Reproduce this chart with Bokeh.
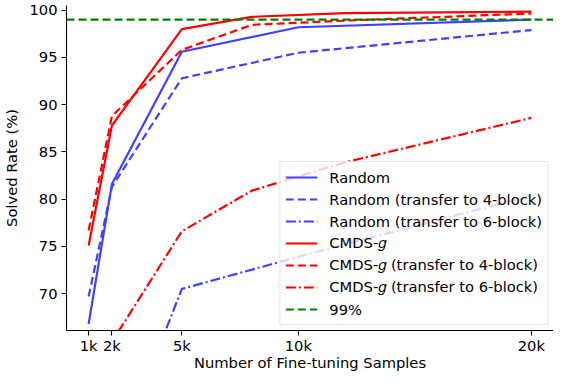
from bokeh.plotting import figure
from bokeh.models import Range1d, FixedTicker, Legend, LegendItem
from bokeh.embed import file_html
from bokeh.resources import INLINE

# ---- data ----
x_random = [1000, 2000, 5000, 10000, 20000]
x_cmds = [1000, 2000, 5000, 8000, 12000, 20000]

random_base = [66.8, 81.6, 95.6, 98.2, 99.0]
random_4 = [69.7, 81.3, 92.8, 95.5, 97.9]
random_6 = [45.0, 51.6, 70.5, 73.9, 80.4]

cmds_base = [75.1, 87.8, 98.0, 99.3, 99.7, 99.85]
cmds_4 = [76.7, 88.8, 95.8, 98.45, 98.9, 99.65]
cmds_6 = [55.0, 64.9, 76.6, 80.9, 83.9, 88.6]

threshold = 99.0
x_limits = [50, 20950]
y_limits = [66.1, 100.5]

x_ticks = [1000, 2000, 5000, 10000, 20000]
x_tick_labels = ["1k", "2k", "5k", "10k", "20k"]
y_ticks = [70, 75, 80, 85, 90, 95, 100]

FONT = "DejaVu Sans"
FS = "14.7px"
BLUE = "#4040ff"
RED = "#ff0000"
GREEN = "#008000"

p = figure(width=553, height=373, output_backend="svg", toolbar_location=None,
           x_range=Range1d(*x_limits), y_range=Range1d(*y_limits),
           min_border_left=61, min_border_right=0, min_border_top=5,
           min_border_bottom=0)
p.outline_line_color = None
p.xgrid.grid_line_color = None
p.ygrid.grid_line_color = None
p.background_fill_color = "white"

for ax in (p.xaxis[0], p.yaxis[0]):
    ax.major_label_text_font = FONT
    ax.major_label_text_font_size = FS
    ax.major_label_text_color = "black"
    ax.axis_label_text_font = FONT
    ax.axis_label_text_font_size = FS
    ax.axis_label_text_font_style = "normal"
    ax.axis_label_text_color = "black"
    ax.axis_line_color = "black"
    ax.axis_line_width = 1.1
    ax.major_tick_line_color = "black"
    ax.major_tick_line_width = 1.1
    ax.major_tick_in = 0
    ax.major_tick_out = 5
    ax.minor_tick_line_color = None

p.xaxis.ticker = FixedTicker(ticks=x_ticks)
p.xaxis.major_label_overrides = {t: l for t, l in zip(x_ticks, x_tick_labels)}
p.yaxis.ticker = FixedTicker(ticks=y_ticks)
p.xaxis.axis_label = "Number of Fine-tuning Samples"
p.yaxis.axis_label = "Solved Rate (%)"
p.xaxis.major_label_standoff = 1
p.yaxis.major_label_standoff = 4
p.xaxis.axis_label_standoff = -3
p.yaxis.axis_label_standoff = 6

LW = 2.2
SOLID = "solid"
DASH = "8 4"
DASHDOT = "10 3 2 3"

r1 = p.line(x_random, random_base, line_color=BLUE, line_width=LW, line_dash=SOLID)
r2 = p.line(x_random, random_4, line_color=BLUE, line_width=LW, line_dash=DASH)
r3 = p.line(x_random, random_6, line_color=BLUE, line_width=LW, line_dash=DASHDOT)
r4 = p.line(x_cmds, cmds_base, line_color=RED, line_width=LW, line_dash=SOLID)
r5 = p.line(x_cmds, cmds_4, line_color=RED, line_width=LW, line_dash=DASH)
r6 = p.line(x_cmds, cmds_6, line_color=RED, line_width=LW, line_dash=DASHDOT)
r7 = p.line(x_limits, [threshold, threshold], line_color=GREEN, line_width=LW, line_dash=DASH)

legend = Legend(items=[
    LegendItem(label="Random", renderers=[r1]),
    LegendItem(label="Random (transfer to 4-block)", renderers=[r2]),
    LegendItem(label="Random (transfer to 6-block)", renderers=[r3]),
    LegendItem(label="CMDS-\U0001D454", renderers=[r4]),
    LegendItem(label="CMDS-\U0001D454 (transfer to 4-block)", renderers=[r5]),
    LegendItem(label="CMDS-\U0001D454 (transfer to 6-block)", renderers=[r6]),
    LegendItem(label="99%", renderers=[r7]),
], location="bottom_right")
legend.label_text_font = FONT
legend.label_text_font_size = FS
legend.label_text_color = "black"
legend.glyph_width = 32
legend.glyph_height = 20
legend.label_height = 20
legend.label_standoff = 12
legend.spacing = 2
legend.padding = 5
legend.margin = 5
legend.border_line_color = "#cccccc"
legend.border_line_width = 1
legend.background_fill_color = "white"
legend.background_fill_alpha = 0.8
p.add_layout(legend, "center")

open("out.html", "w").write(file_html(p, INLINE))
